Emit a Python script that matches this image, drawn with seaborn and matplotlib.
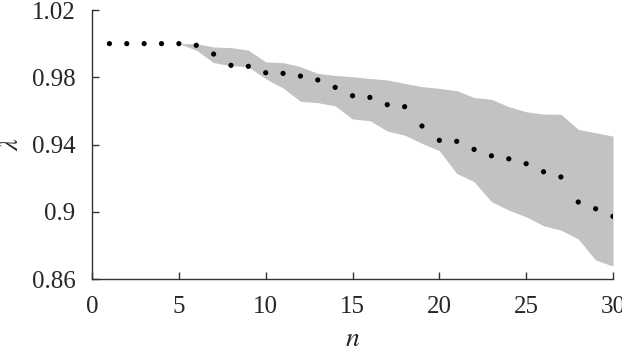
import seaborn as sns
import matplotlib
matplotlib.use('Agg')
import matplotlib.pyplot as plt
import pandas as pd
from matplotlib.ticker import FormatStrFormatter

# -------- data --------
n = list(range(1, 31))
lam = [1.0, 1.0, 1.0, 1.0, 1.0, 0.999, 0.9938, 0.9871, 0.9865, 0.9827,
       0.9823, 0.9807, 0.9784, 0.974, 0.969, 0.968, 0.9637, 0.9625, 0.951, 0.9425,
       0.9419, 0.9371, 0.9333, 0.9315, 0.9286, 0.9238, 0.9207, 0.9058, 0.9018, 0.8973]
upper = [1.0, 1.0, 1.0, 1.0, 1.0, 1.0, 0.998, 0.9976, 0.9962, 0.9891,
         0.9887, 0.9863, 0.9823, 0.9811, 0.9803, 0.9793, 0.9784, 0.9764, 0.9744, 0.9734,
         0.972, 0.968, 0.9669, 0.9625, 0.9595, 0.9581, 0.958, 0.949, 0.947, 0.945]
lower = [1.0, 1.0, 1.0, 1.0, 1.0, 0.9962, 0.9887, 0.9869, 0.9863, 0.9791,
         0.9736, 0.9657, 0.9649, 0.963, 0.9552, 0.9542, 0.948, 0.9456, 0.9407, 0.9363,
         0.9228, 0.9179, 0.906, 0.901, 0.897, 0.8917, 0.8891, 0.8838, 0.8713, 0.8677]
xticks = [0, 5, 10, 15, 20, 25, 30]
yticks = [0.86, 0.9, 0.94, 0.98, 1.02]

df = pd.DataFrame({'n': n, 'lam': lam, 'upper': upper, 'lower': lower})

sns.set_style('ticks')
plt.rcParams['font.family'] = ['Liberation Serif', 'DejaVu Serif']
plt.rcParams['mathtext.fontset'] = 'stix'
plt.rcParams['xtick.direction'] = 'in'
plt.rcParams['ytick.direction'] = 'in'

fig = plt.figure(figsize=(6.22, 3.51), dpi=100)
ax = fig.add_axes([0.148, 0.205, 0.8375, 0.7665])

ax.fill_between(df['n'], df['lower'], df['upper'], color='#c2c2c2', linewidth=0)
sns.scatterplot(data=df, x='n', y='lam', ax=ax, color='black', s=14,
                edgecolor='none', zorder=3)

ax.set_xlim(0, 30)
ax.set_ylim(0.86, 1.02)
ax.set_xticks(xticks)
ax.set_yticks(yticks)
ax.yaxis.set_major_formatter(FormatStrFormatter('%g'))
ax.tick_params(labelsize=18, length=5, width=1, color='#333333', pad=12)
ax.set_xlabel(r'$n$', fontsize=20, labelpad=7)
ax.set_ylabel(r'$\lambda$', fontsize=19, labelpad=6)
sns.despine(ax=ax)
for s in ['left', 'bottom']:
    ax.spines[s].set_color('#333333')
    ax.spines[s].set_linewidth(1)

fig.savefig('out.png', dpi=100)
